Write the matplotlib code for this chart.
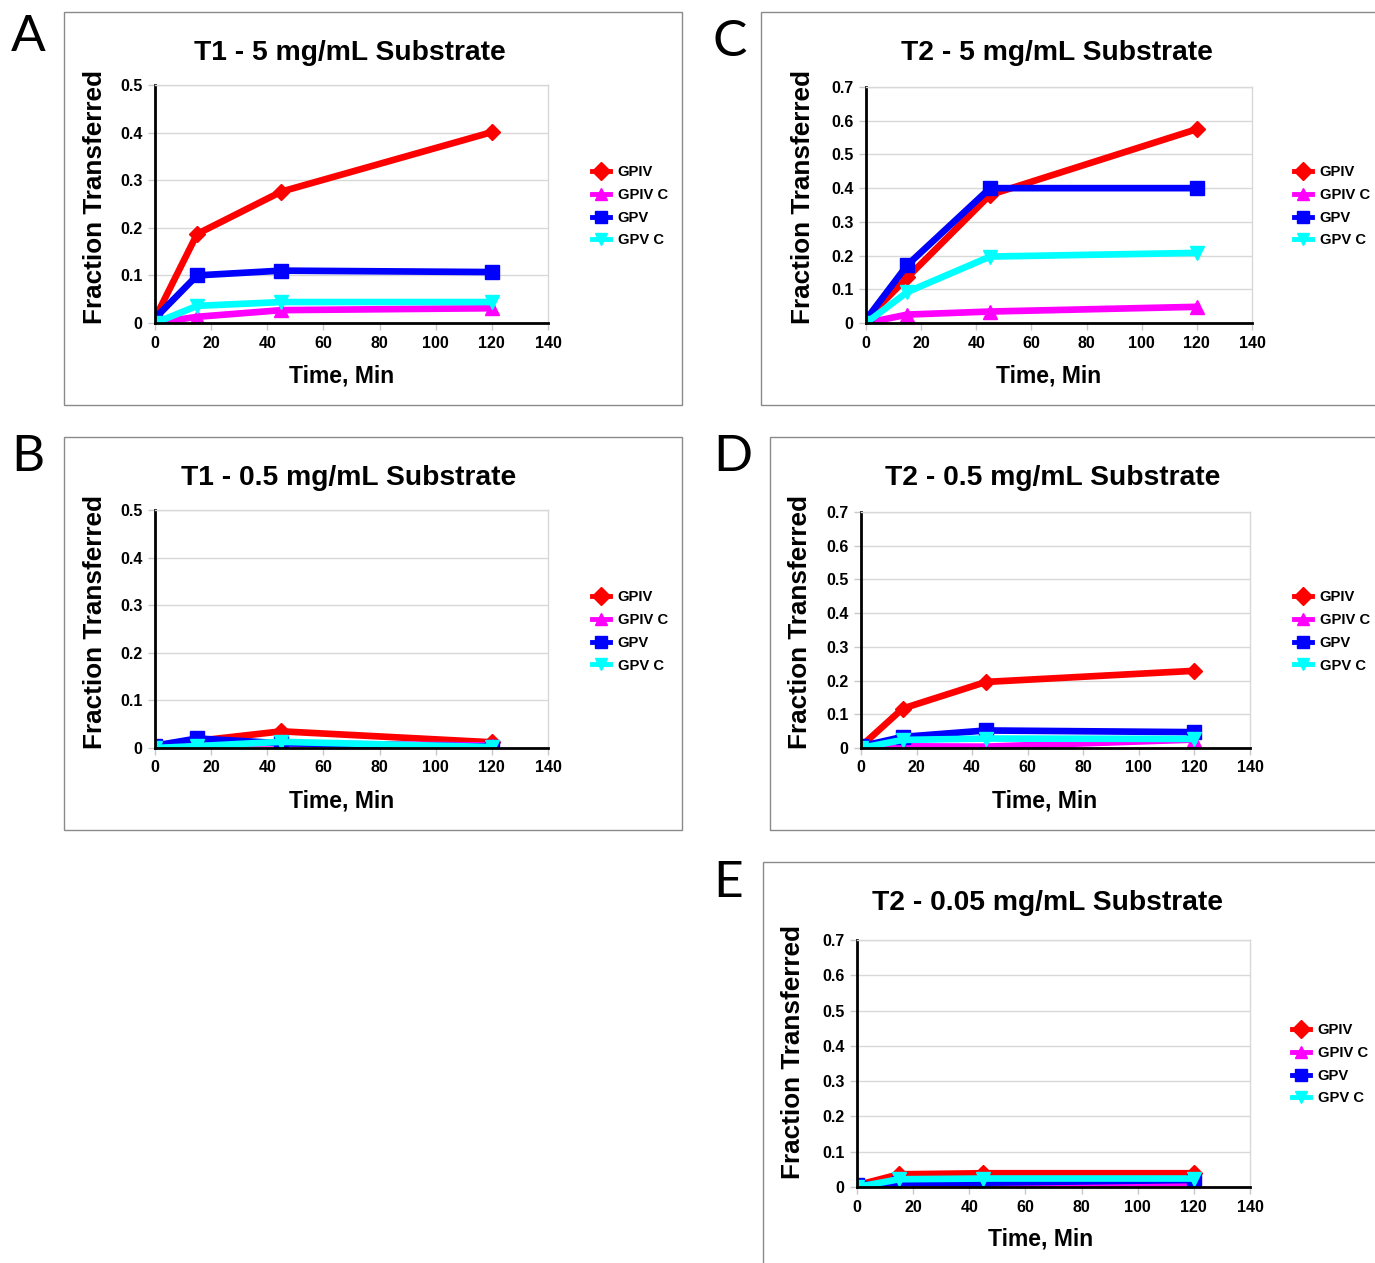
import matplotlib
matplotlib.use('Agg')
import matplotlib.pyplot as plt
from matplotlib.patches import Rectangle

W, H = 1375, 1263

# data
time_min = [0, 15, 45, 120]
series_names = ["GPIV", "GPIV C", "GPV", "GPV C"]

a_gpiv = [0.01, 0.187, 0.276, 0.401]
a_gpivc = [0.0, 0.013, 0.027, 0.031]
a_gpv = [0.01, 0.100, 0.110, 0.107]
a_gpvc = [0.0, 0.036, 0.044, 0.044]

b_gpiv = [0.003, 0.015, 0.035, 0.012]
b_gpivc = [0.0, 0.008, 0.010, 0.005]
b_gpv = [0.005, 0.020, 0.010, 0.003]
b_gpvc = [0.0, 0.004, 0.013, 0.002]

c_gpiv = [0.01, 0.135, 0.380, 0.575]
c_gpivc = [0.0, 0.025, 0.034, 0.048]
c_gpv = [0.01, 0.172, 0.400, 0.400]
c_gpvc = [0.0, 0.092, 0.197, 0.208]

d_gpiv = [0.005, 0.117, 0.196, 0.229]
d_gpivc = [0.0, 0.005, 0.004, 0.025]
d_gpv = [0.005, 0.033, 0.052, 0.047]
d_gpvc = [0.0, 0.024, 0.028, 0.027]

e_gpiv = [0.005, 0.036, 0.039, 0.039]
e_gpivc = [0.0, 0.008, 0.010, 0.010]
e_gpv = [0.005, 0.012, 0.012, 0.020]
e_gpvc = [0.0, 0.022, 0.024, 0.024]

colors = ["#ff0000", "#ff00ff", "#0000ff", "#00ffff"]
markers = ["D", "^", "s", "v"]
msizes = [8, 10, 10, 10]

plt.rcParams['font.family'] = ['Liberation Sans', 'DejaVu Sans']

fig = plt.figure(figsize=(W / 100, H / 100), dpi=100)


def fx(x):
    return x / W


def fy(y):
    return 1 - y / H


def box(x0, y0, x1, y1):
    fig.patches.append(Rectangle((fx(x0), fy(y1)), fx(x1) - fx(x0), fy(y0) - fy(y1),
                                 transform=fig.transFigure, fill=False,
                                 edgecolor="#8a8a8a", lw=1.0))


def panel(letter, lpos, frame, ax_px, ymax, title, data, tpos, ylpos, xlpos, legpos):
    box(*frame)
    fig.text(fx(lpos[0]), fy(lpos[1]), letter, fontsize=37, family='Lato',
             ha='center', va='center')
    l, r, t, b = ax_px
    ax = fig.add_axes([fx(l), fy(b), fx(r) - fx(l), fy(t) - fy(b)])
    for vals, name, c, m, ms in zip(data, series_names, colors, markers, msizes):
        ax.plot(time_min, vals, color=c, lw=4.8, marker=m, markersize=ms,
                markeredgecolor=c, label=name)
    ax.set_xlim(0, 140)
    ax.set_ylim(0, ymax)
    ax.set_xticks(range(0, 141, 20))
    yt = [i / 10 for i in range(int(round(ymax * 10)) + 1)]
    ax.set_yticks(yt)
    ax.set_yticklabels(["0"] + ["%.1f" % v for v in yt[1:]])
    ax.grid(axis='y', color="#d8d8d8", lw=1.0)
    ax.set_axisbelow(True)
    for s in ['top', 'right']:
        ax.spines[s].set_color("#d8d8d8")
        ax.spines[s].set_linewidth(1.0)
    for s in ['left', 'bottom']:
        ax.spines[s].set_color("black")
        ax.spines[s].set_linewidth(2.0)
    ax.tick_params(axis='both', length=5, width=1, color="#c8c8c8",
                   labelsize=11.5, pad=4)
    for lab in ax.get_xticklabels() + ax.get_yticklabels():
        lab.set_fontweight('bold')
    fig.text(fx(tpos[0]), fy(tpos[1]), title, fontsize=20.3, fontweight='bold',
             ha='center', va='center')
    fig.text(fx(ylpos[0]), fy(ylpos[1]), "Fraction Transferred", fontsize=18.8,
             fontweight='bold', rotation=90, ha='center', va='center')
    fig.text(fx(xlpos[0]), fy(xlpos[1]), "Time, Min", fontsize=16.5,
             fontweight='bold', ha='center', va='center')
    leg = ax.legend(loc='upper left', bbox_to_anchor=(fx(legpos[0]), fy(legpos[1])),
                    bbox_transform=fig.transFigure, frameon=False, fontsize=10.6,
                    handlelength=1.2, handletextpad=0.55, labelspacing=0.6,
                    borderpad=0, borderaxespad=0)
    for txt in leg.get_texts():
        txt.set_fontweight('bold')
    for h in leg.legend_handles:
        h.set_linewidth(3.5)
        h.set_markersize(9)
    return ax


panel("A", (28, 37), (64, 12, 682, 405), (155, 548, 85, 323), 0.5,
      "T1 - 5 mg/mL Substrate", [a_gpiv, a_gpivc, a_gpv, a_gpvc],
      (350, 53), (95, 197), (342, 376), (592, 165))
panel("B", (28, 457), (64, 437, 682, 830), (155, 548, 510, 748), 0.5,
      "T1 - 0.5 mg/mL Substrate", [b_gpiv, b_gpivc, b_gpv, b_gpvc],
      (349, 478), (95, 622), (342, 801), (592, 590))
panel("C", (730, 42), (761, 12, 1380, 405), (866, 1252, 87, 323), 0.7,
      "T2 - 5 mg/mL Substrate", [c_gpiv, c_gpivc, c_gpv, c_gpvc],
      (1057, 53), (803, 197), (1049, 376), (1294, 165))
panel("D", (733, 457), (770, 437, 1380, 830), (861, 1250, 512, 748), 0.7,
      "T2 - 0.5 mg/mL Substrate", [d_gpiv, d_gpivc, d_gpv, d_gpvc],
      (1053, 478), (800, 622), (1045, 801), (1294, 590))
panel("E", (728, 883), (763, 862, 1380, 1270), (857, 1250, 940, 1187), 0.7,
      "T2 - 0.05 mg/mL Substrate", [e_gpiv, e_gpivc, e_gpv, e_gpvc],
      (1048, 903), (793, 1052), (1041, 1239), (1292, 1023))

fig.savefig("out.png", dpi=100)
